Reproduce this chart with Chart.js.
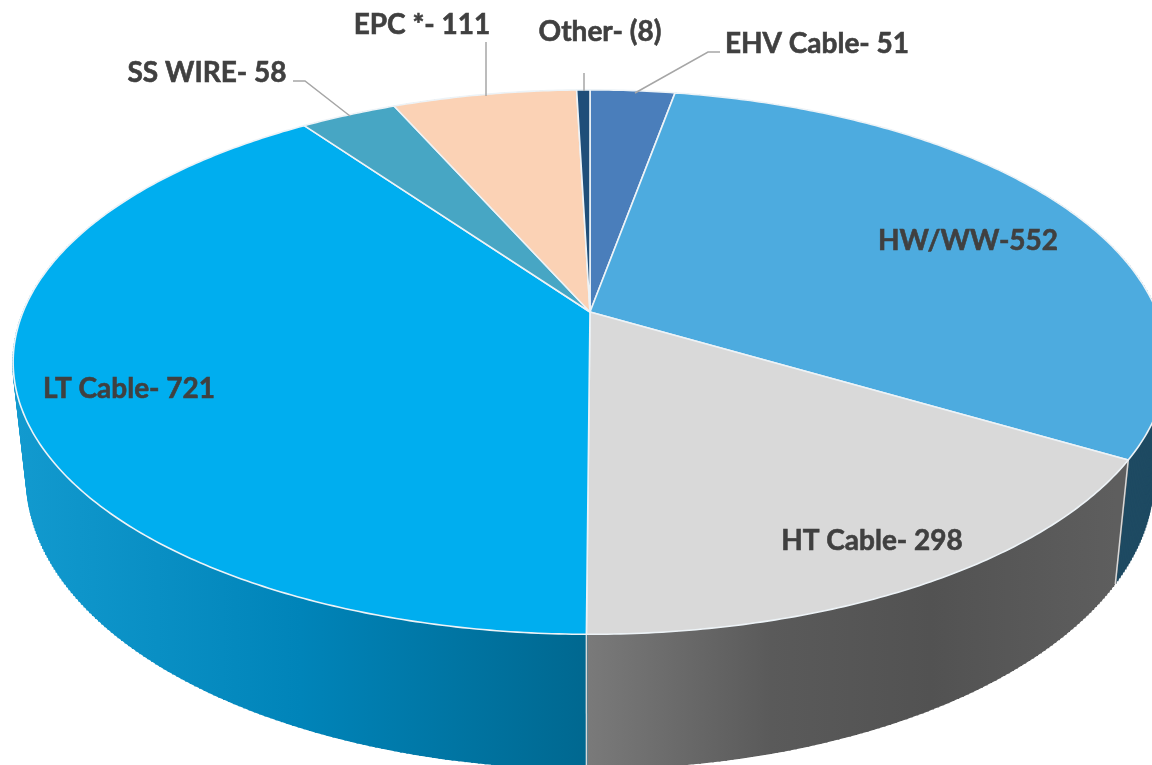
<!DOCTYPE html>
<html><head><meta charset="utf-8">
<style>html,body{margin:0;padding:0;background:#fff}canvas{display:block}</style>
<script src="https://cdn.jsdelivr.net/npm/chart.js@4"></script>
</head><body><canvas id="c" width="1152" height="765"></canvas>
<script>
const categories = ['EHV Cable','HW/WW','HT Cable','LT Cable','SS WIRE','EPC *','Other'];
const values = [51,552,298,721,58,111,8];
const displayLabels = ['EHV Cable- 51','HW/WW-552','HT Cable- 298','LT Cable- 721','SS WIRE- 58','EPC *- 111','Other- (8)'];
const topColors = ['#4A7EBB','#4DABDF','#D9D9D9','#00AEEF','#47A6C4','#FBD2B5','#1F4E79'];
const labelPos = [[817,44],[968,241],[872,541],[129,389],[207,73],[422,25],[600,32]];
const leaders = [[[720,52],[708,52],[635,93]],null,null,null,[[293,81],[305,81],[350,116]],[[486,42],[486,96]],[[584,73],[584,91]]];

// projection of the tilted disc
const CX=590, CY=312, RX=567, RY=263, K=0.184;
const project = a => { const u=Math.cos(a), v=Math.sin(a), w=1-K*v; return {x:CX+RX*u/w, y:CY+RY*v/w}; };
const lower = p => ({x:CX+(p.x-CX)*0.976, y:95+1.063*p.y});

function arcPts(s,e){ const n=Math.max(2,Math.ceil((e-s)/0.01)), pts=[]; for(let i=0;i<=n;i++) pts.push(project(s+(e-s)*i/n)); return pts; }
function sideFill(ctx,i){
  if(i===3){ const g=ctx.createLinearGradient(15,0,586,0); g.addColorStop(0,'#129ACF'); g.addColorStop(0.5,'#0084B9'); g.addColorStop(1,'#006890'); return g; }
  if(i===2){ const g=ctx.createLinearGradient(586,0,1116,0); g.addColorStop(0,'#7A7A7A'); g.addColorStop(0.35,'#5A5A5A'); g.addColorStop(0.65,'#525252'); g.addColorStop(1,'#5E5E5E'); return g; }
  if(i===1) return '#1E4A62';
  return '#555';
}
const pie3d = {
  id:'pie3d',
  beforeDatasetDraw(chart){
    const ctx=chart.ctx, arcs=chart.getDatasetMeta(0).data;
    ctx.save(); ctx.lineJoin='round';
    // sides: swept from the upper rim to the lower rim
    arcs.forEach((arc,i)=>{
      const pts=arcPts(arc.startAngle,arc.endAngle), fill=sideFill(ctx,i);
      ctx.fillStyle=fill; ctx.strokeStyle=fill; ctx.lineWidth=2;
      ctx.beginPath();
      pts.forEach((p,j)=> j?ctx.lineTo(p.x,p.y):ctx.moveTo(p.x,p.y));
      pts.slice().reverse().forEach(p=>{const q=lower(p); ctx.lineTo(q.x,q.y);});
      ctx.closePath(); ctx.fill();
      pts.forEach(p=>{const q=lower(p); ctx.beginPath(); ctx.moveTo(p.x,p.y); ctx.lineTo(q.x,q.y); ctx.stroke();});
    });
    // visible seams on the side
    [1,2].forEach(i=>{ const p=project(arcs[i].endAngle), q=lower(p);
      ctx.beginPath(); ctx.moveTo(p.x,p.y); ctx.lineTo(q.x,q.y);
      ctx.strokeStyle='#D8D8D8'; ctx.lineWidth=1.5; ctx.stroke(); });
    // top faces
    arcs.forEach((arc,i)=>{
      const pts=arcPts(arc.startAngle,arc.endAngle);
      ctx.beginPath(); ctx.moveTo(CX,CY);
      pts.forEach(p=>ctx.lineTo(p.x,p.y)); ctx.closePath();
      ctx.fillStyle=topColors[i]; ctx.fill();
      ctx.strokeStyle='#EDF3F7'; ctx.lineWidth=1.6; ctx.stroke();
    });
    ctx.restore();
    return false;
  },
  afterDatasetsDraw(chart){
    const ctx=chart.ctx; ctx.save();
    ctx.strokeStyle='#A6A6A6'; ctx.lineWidth=1.5;
    leaders.forEach(l=>{ if(!l) return; ctx.beginPath(); l.forEach((p,j)=>j?ctx.lineTo(p[0],p[1]):ctx.moveTo(p[0],p[1])); ctx.stroke(); });
    ctx.font='bold 28px Lato'; ctx.fillStyle='#404040'; ctx.strokeStyle='#404040'; ctx.lineWidth=0.6; ctx.textAlign='center'; ctx.textBaseline='middle';
    displayLabels.forEach((t,i)=>{ctx.fillText(t,labelPos[i][0],labelPos[i][1]); ctx.strokeText(t,labelPos[i][0],labelPos[i][1]);});
    ctx.restore();
  }
};
new Chart(document.getElementById('c'),{
  type:'pie',
  data:{labels:categories,datasets:[{data:values,backgroundColor:topColors}]},
  options:{responsive:false,animation:false,plugins:{legend:{display:false},tooltip:{enabled:false}}},
  plugins:[pie3d]
});
</script></body></html>
